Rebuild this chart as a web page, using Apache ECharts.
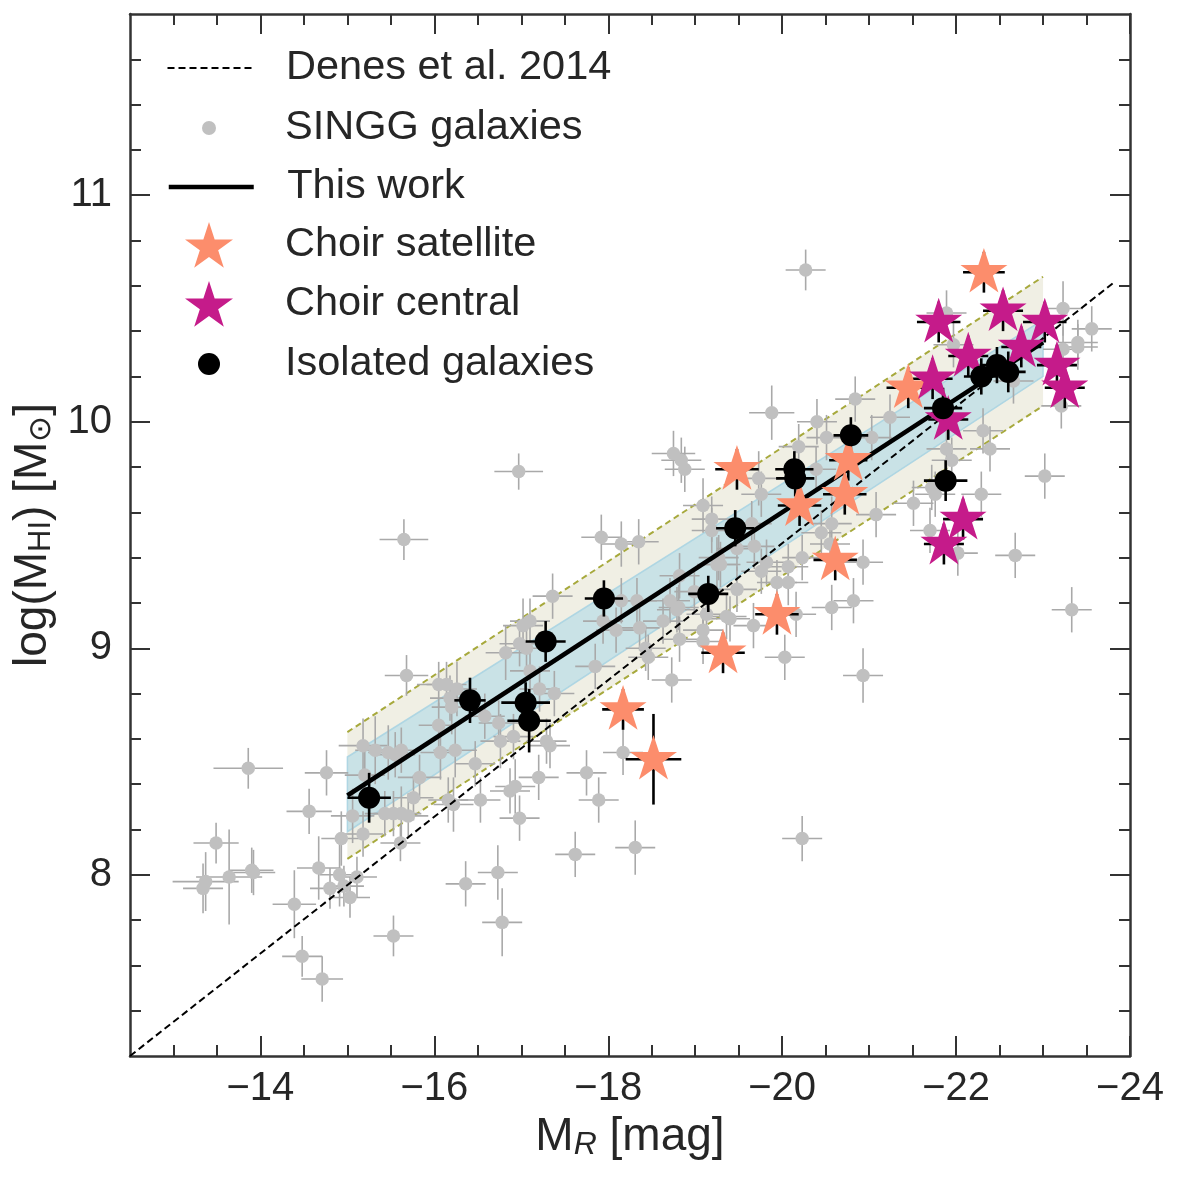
<!DOCTYPE html>
<html>
<head>
<meta charset="utf-8">
<title>HI mass vs R-band magnitude</title>
<script src="https://cdn.jsdelivr.net/npm/echarts@6/dist/echarts.min.js"></script>
<style>
  html, body { margin: 0; padding: 0; background: #ffffff; }
  #main { width: 1182px; height: 1178px; }
</style>
</head>
<body>
<div id="main"></div>
<script>
var FONT = 'Liberation Sans, Arial, Helvetica, sans-serif'
var TEXT = '#262626'

// tick values
var xMajorTicks = [-24, -22, -20, -18, -16, -14]
var xMinorTicks = [-23.5, -23, -22.5, -21.5, -21, -20.5, -19.5, -19, -18.5, -17.5, -17, -16.5, -15.5, -15, -14.5, -13.5, -13]
var yMajorTicks = [8, 9, 10, 11]
var yMinorTicks = [7.4, 7.6, 7.8, 8.2, 8.4, 8.6, 8.8, 9.2, 9.4, 9.6, 9.8, 10.2, 10.4, 10.6, 10.8, 11.2, 11.4, 11.6]

// SINGG galaxies (M_R, log MHI, errors)
var singgM = [-15.68, -13.86, -14.76, -14.56, -13.49, -13.37, -13.34, -13.64, -13.90, -13.92,
  -14.39, -14.67, -14.80, -14.91, -14.96, -15.03, -15.11, -15.53, -14.48, -14.71,
  -15.61, -14.93, -15.18, -15.06, -15.20, -15.18, -15.32, -15.47, -15.55, -15.62,
  -15.83, -15.43, -15.53, -15.62, -15.70, -15.76, -16.05, -16.14, -16.26, -16.18,
  -16.20, -16.05, -16.07, -16.24, -16.16, -16.22, -16.47, -16.58, -16.74, -16.76,
  -16.91, -16.53, -16.87, -16.93, -16.98, -17.20, -17.29, -17.33, -16.82, -16.98,
  -17.06, -17.02, -17.10, -17.10, -17.21, -17.38, -17.36, -17.85, -18.09, -18.15,
  -17.94, -18.33, -18.36, -18.43, -18.46, -18.63, -18.71, -18.81, -18.82, -18.73,
  -19.13, -19.25, -19.36, -19.09, -18.17, -17.75, -17.89, -17.62, -18.31, -19.88,
  -20.40, -20.84, -21.24, -20.51, -21.03, -20.19, -18.75, -18.84, -18.88, -19.73,
  -20.39, -19.76, -19.09, -19.19, -19.19, -19.65, -19.68, -19.48, -20.57, -20.45,
  -20.55, -21.08, -18.15, -18.35, -17.92, -19.27, -19.29, -19.82, -20.07, -19.76,
  -20.23, -20.93, -20.07, -19.94, -18.82, -19.48, -19.67, -20.16, -20.82, -20.57,
  -18.79, -18.99, -19.40, -19.09, -20.03, -20.93, -23.23, -23.56, -23.40, -23.40,
  -23.23, -22.66, -21.89, -21.97, -22.31, -22.39, -21.89, -21.95, -21.72, -21.76,
  -21.51, -22.29, -21.70, -22.02, -22.68, -23.02, -23.21, -23.33, -20.27, -20.23,
  -16.97, -15.65, -16.36, -16.73, -16.78]
var singgHI = [8.88, 8.47, 8.45, 8.28, 8.14, 7.97, 7.94, 7.99, 8.02, 8.01,
  7.87, 8.03, 7.94, 8.00, 7.95, 7.90, 7.99, 7.73, 7.64, 7.54,
  8.14, 8.16, 8.18, 8.26, 8.44, 8.57, 8.55, 8.54, 8.53, 8.55,
  8.43, 8.27, 8.27, 8.27, 8.26, 8.34, 8.84, 8.84, 8.82, 8.78,
  8.74, 8.66, 8.54, 8.55, 8.33, 8.31, 8.49, 8.70, 8.67, 8.59,
  8.61, 8.33, 8.37, 8.39, 8.25, 8.43, 8.59, 8.57, 8.98, 9.02,
  9.00, 9.10, 9.12, 8.90, 8.82, 8.80, 9.23, 8.92, 9.08, 9.21,
  9.12, 9.21, 9.09, 9.00, 8.96, 9.12, 9.21, 9.18, 9.04, 8.86,
  9.15, 9.37, 9.14, 9.08, 8.54, 8.45, 8.33, 8.09, 8.12, 10.04,
  10.00, 10.10, 10.02, 9.93, 9.93, 9.89, 9.86, 9.83, 9.79, 9.75,
  9.79, 9.68, 9.63, 9.57, 9.52, 9.55, 9.45, 9.44, 9.55, 9.51,
  9.46, 9.59, 9.46, 9.47, 9.49, 9.40, 9.37, 9.38, 9.36, 9.34,
  9.40, 9.38, 9.29, 9.29, 9.32, 9.26, 9.10, 9.15, 9.21, 9.18,
  9.17, 9.25, 9.13, 9.03, 8.96, 8.88, 10.50, 10.41, 10.35, 10.33,
  10.32, 10.18, 10.48, 10.34, 9.96, 9.88, 9.88, 9.83, 9.71, 9.68,
  9.64, 9.68, 9.52, 9.42, 9.41, 9.76, 10.07, 9.17, 10.67, 8.16,
  9.78, 9.48, 7.96, 8.01, 7.79]
var singgMErr = [0.25, 0.40, 0.25, 0.26, 0.26, 0.38, 0.23, 0.38, 0.25, 0.25,
  0.25, 0.25, 0.23, 0.23, 0.23, 0.23, 0.23, 0.23, 0.23, 0.24,
  0.23, 0.23, 0.23, 0.25, 0.23, 0.28, 0.23, 0.23, 0.23, 0.23,
  0.25, 0.23, 0.23, 0.23, 0.23, 0.23, 0.25, 0.23, 0.23, 0.23,
  0.23, 0.23, 0.23, 0.25, 0.23, 0.23, 0.23, 0.23, 0.23, 0.23,
  0.23, 0.23, 0.23, 0.23, 0.23, 0.23, 0.23, 0.23, 0.23, 0.23,
  0.23, 0.23, 0.23, 0.23, 0.23, 0.23, 0.23, 0.23, 0.23, 0.23,
  0.23, 0.23, 0.23, 0.23, 0.23, 0.23, 0.23, 0.23, 0.23, 0.23,
  0.23, 0.23, 0.23, 0.23, 0.23, 0.23, 0.23, 0.23, 0.23, 0.26,
  0.23, 0.23, 0.23, 0.23, 0.23, 0.23, 0.25, 0.23, 0.23, 0.23,
  0.23, 0.23, 0.23, 0.23, 0.23, 0.23, 0.23, 0.23, 0.23, 0.23,
  0.23, 0.23, 0.23, 0.23, 0.23, 0.23, 0.23, 0.23, 0.23, 0.23,
  0.23, 0.23, 0.23, 0.23, 0.23, 0.23, 0.23, 0.23, 0.23, 0.23,
  0.23, 0.23, 0.23, 0.23, 0.23, 0.23, 0.23, 0.23, 0.23, 0.23,
  0.23, 0.23, 0.23, 0.23, 0.23, 0.23, 0.23, 0.23, 0.23, 0.23,
  0.23, 0.23, 0.23, 0.23, 0.23, 0.23, 0.23, 0.23, 0.23, 0.23,
  0.28, 0.28, 0.23, 0.23, 0.23]
var singgHIErr = [0.09, 0.09, 0.10, 0.10, 0.09, 0.13, 0.11, 0.21, 0.10, 0.10,
  0.15, 0.14, 0.09, 0.14, 0.09, 0.09, 0.09, 0.09, 0.09, 0.10,
  0.08, 0.12, 0.10, 0.12, 0.12, 0.12, 0.15, 0.12, 0.10, 0.10,
  0.10, 0.10, 0.10, 0.12, 0.10, 0.10, 0.10, 0.10, 0.12, 0.10,
  0.12, 0.10, 0.12, 0.12, 0.10, 0.12, 0.10, 0.10, 0.10, 0.12,
  0.10, 0.10, 0.10, 0.12, 0.10, 0.10, 0.10, 0.10, 0.12, 0.10,
  0.10, 0.12, 0.10, 0.10, 0.10, 0.10, 0.10, 0.10, 0.10, 0.10,
  0.10, 0.10, 0.10, 0.10, 0.10, 0.10, 0.10, 0.10, 0.10, 0.10,
  0.10, 0.12, 0.10, 0.10, 0.10, 0.10, 0.10, 0.10, 0.12, 0.12,
  0.10, 0.10, 0.10, 0.10, 0.10, 0.10, 0.10, 0.10, 0.10, 0.12,
  0.10, 0.10, 0.12, 0.10, 0.10, 0.10, 0.10, 0.10, 0.12, 0.10,
  0.10, 0.10, 0.10, 0.10, 0.10, 0.10, 0.10, 0.10, 0.10, 0.10,
  0.10, 0.10, 0.10, 0.10, 0.10, 0.10, 0.10, 0.10, 0.10, 0.10,
  0.10, 0.10, 0.10, 0.10, 0.10, 0.12, 0.12, 0.10, 0.10, 0.10,
  0.10, 0.10, 0.10, 0.10, 0.10, 0.10, 0.10, 0.10, 0.10, 0.10,
  0.10, 0.10, 0.10, 0.10, 0.10, 0.10, 0.10, 0.10, 0.09, 0.10,
  0.08, 0.09, 0.10, 0.12, 0.15]

// isolated galaxies
var isoM = [-15.25, -16.41, -17.05, -17.09, -17.28, -17.95, -19.15, -19.46, -20.14, -20.15, -20.79, -21.85, -21.88, -22.29, -22.47, -22.60]
var isoHI = [8.34, 8.77, 8.76, 8.68, 9.03, 9.22, 9.24, 9.53, 9.79, 9.75, 9.94, 10.06, 9.74, 10.20, 10.25, 10.22]
var isoMErr = [0.25, 0.18, 0.28, 0.25, 0.23, 0.22, 0.23, 0.22, 0.22, 0.22, 0.20, 0.22, 0.25, 0.20, 0.20, 0.20]
var isoHIErr = [0.11, 0.10, 0.09, 0.14, 0.09, 0.08, 0.08, 0.08, 0.08, 0.08, 0.08, 0.09, 0.09, 0.08, 0.08, 0.09]

// Choir satellites
var satM = [-22.32, -21.45, -19.48, -20.20, -20.76, -20.72, -20.61, -19.94, -19.32, -18.17, -18.52]
var satHI = [10.66, 10.15, 9.79, 9.63, 9.83, 9.68, 9.39, 9.15, 8.98, 8.73, 8.51]
var satMErr = [0.24, 0.25, 0.25, 0.25, 0.22, 0.25, 0.25, 0.25, 0.25, 0.24, 0.32]
var satHIErr = [0.09, 0.09, 0.09, 0.09, 0.09, 0.09, 0.09, 0.09, 0.09, 0.09, 0.20]

// Choir centrals
var cenM = [-21.80, -22.54, -23.02, -22.14, -22.75, -21.73, -23.16, -23.25, -21.91, -22.08, -21.86]
var cenHI = [10.44, 10.49, 10.44, 10.29, 10.33, 10.19, 10.25, 10.15, 10.01, 9.57, 9.46]
var cenMErr = [0.25, 0.23, 0.25, 0.23, 0.23, 0.23, 0.23, 0.23, 0.23, 0.23, 0.23]
var cenHIErr = [0.09, 0.09, 0.09, 0.09, 0.09, 0.09, 0.09, 0.09, 0.09, 0.09, 0.09]

// relations
var denesM = [-12.5, -23.8]
var denesHI = [7.2, 10.61]
var fitM = [-15, -23]
var fitHI = [8.35, 10.35]
var bandM = [-15, -23]
var outerLow = [8.07, 10.07]
var outerHigh = [8.63, 10.64]
var innerLow = [8.19, 10.20]
var innerHigh = [8.52, 10.45]

var STAR = 'path://M50,0 L61.23,34.55 L97.55,34.55 L68.16,55.9 L79.39,90.45 L50,69.1 L20.61,90.45 L31.84,55.9 L2.45,34.55 L38.77,34.55 Z'

function zip(a, b, c, d) {
  var out = []
  a.forEach(function (value, i) {
    out.push(d ? [value, b[i], c[i], d[i]] : [value, b[i]])
  })
  return out
}

function errorBars(data, color, width, z) {
  return {
    type: 'custom', data: data, z: z, silent: true, clip: true,
    encode: { x: 0, y: 1 },
    renderItem: function (params, api) {
      var x = api.value(0), y = api.value(1), dx = api.value(2), dy = api.value(3)
      var l = api.coord([x - dx, y]), r = api.coord([x + dx, y])
      var lo = api.coord([x, y - dy]), hi = api.coord([x, y + dy])
      var style = { stroke: color, lineWidth: width }
      return {
        type: 'group', children: [
          { type: 'line', shape: { x1: l[0], y1: l[1], x2: r[0], y2: r[1] }, style: style },
          { type: 'line', shape: { x1: lo[0], y1: lo[1], x2: hi[0], y2: hi[1] }, style: style }
        ]
      }
    }
  }
}

function renderBands(params, api) {
  var up = [], low = [], inUp = [], inLow = []
  bandM.forEach(function (m, i) {
    up.push(api.coord([m, outerHigh[i]]))
    low.push(api.coord([m, outerLow[i]]))
    inUp.push(api.coord([m, innerHigh[i]]))
    inLow.push(api.coord([m, innerLow[i]]))
  })
  var dash = { stroke: '#a7a93c', lineWidth: 2, lineDash: [6, 4], fill: null }
  return {
    type: 'group', children: [
      { type: 'polygon', shape: { points: up.concat(low.slice().reverse()) }, style: { fill: '#f0efe4' } },
      { type: 'polygon', shape: { points: inUp.concat(inLow.slice().reverse()) }, style: { fill: '#c9e2e6', stroke: 'rgba(170,212,226,0.9)', lineWidth: 1.5 } },
      { type: 'polyline', shape: { points: up }, style: dash },
      { type: 'polyline', shape: { points: low }, style: dash }
    ]
  }
}

function minusLabel(v) {
  return String(v).replace('-', '\u2212')
}

function xAxisOf(pos, ticks, len, labels) {
  return {
    type: 'value', min: -24, max: -12.5, inverse: true, position: pos, gridIndex: 0,
    axisLine: { show: len > 15, lineStyle: { color: '#333333', width: 2.5 } },
    axisTick: { show: true, inside: true, length: len, customValues: ticks, lineStyle: { color: '#333333', width: 2 } },
    axisLabel: { show: labels, customValues: ticks, formatter: minusLabel, fontSize: 40, color: TEXT, fontFamily: FONT, margin: 13 },
    splitLine: { show: false }
  }
}

function yAxisOf(pos, ticks, len, labels) {
  return {
    type: 'value', min: 7.2, max: 11.8, position: pos, gridIndex: 0,
    axisLine: { show: len > 15, lineStyle: { color: '#333333', width: 2.5 } },
    axisTick: { show: true, inside: true, length: len, customValues: ticks, lineStyle: { color: '#333333', width: 2 } },
    axisLabel: { show: labels, customValues: ticks, fontSize: 40, color: TEXT, fontFamily: FONT, margin: 18 },
    splitLine: { show: false }
  }
}

function legendRow(item, yc, w, h) {
  return {
    data: [item], orient: 'vertical', selectedMode: false, padding: 0,
    left: 209 - w / 2, top: yc - Math.max(h, 42) / 2,
    itemWidth: w, itemHeight: h,
    textStyle: { fontSize: 41.5, color: TEXT, fontFamily: FONT, padding: [4, 0, 0, 71 - w / 2] }
  }
}

var xAxes = [
  xAxisOf('bottom', xMajorTicks, 20, true),
  xAxisOf('bottom', xMinorTicks, 11, false),
  xAxisOf('top', xMajorTicks, 20, false),
  xAxisOf('top', xMinorTicks, 11, false)
]
xAxes[0].name = 'M{i|R} [mag]'
xAxes[0].nameLocation = 'middle'
xAxes[0].nameGap = 56
xAxes[0].nameTextStyle = {
  fontSize: 46, color: TEXT, fontFamily: FONT,
  rich: { i: { fontSize: 32, fontStyle: 'italic', color: TEXT, fontFamily: FONT, verticalAlign: 'bottom', padding: [16, 0, 0, 0] } }
}

var yAxes = [
  yAxisOf('left', yMajorTicks, 20, true),
  yAxisOf('left', yMinorTicks, 11, false),
  yAxisOf('right', yMajorTicks, 20, false),
  yAxisOf('right', yMinorTicks, 11, false)
]
yAxes[0].name = 'log(M{s|HI}) [M{s|\u2299}]'
yAxes[0].nameLocation = 'middle'
yAxes[0].nameGap = 66
yAxes[0].nameTextStyle = {
  fontSize: 46, color: TEXT, fontFamily: FONT,
  rich: { s: { fontSize: 31, color: TEXT, fontFamily: FONT, verticalAlign: 'bottom', padding: [16, 0, 0, 0] } }
}

var chart = echarts.init(document.getElementById('main'), null, { renderer: 'canvas' })
chart.setOption({
  animation: false,
  backgroundColor: '#ffffff',
  grid: { left: 130, top: 14, width: 1000, height: 1042, outerBoundsMode: 'none' },
  xAxis: xAxes,
  yAxis: yAxes,
  legend: [
    legendRow({ name: 'Denes et al. 2014', itemStyle: { opacity: 0 }, lineStyle: { width: 2, type: [7, 4] } }, 68, 85, 20),
    legendRow('SINGG galaxies', 128, 14, 14),
    legendRow({ name: 'This work', itemStyle: { opacity: 0 }, lineStyle: { width: 4.5 } }, 187, 85, 20),
    legendRow('Choir satellite', 246, 48, 48),
    legendRow('Choir central', 305, 48, 48),
    legendRow('Isolated galaxies', 364, 22, 22)
  ],
  series: [
    { type: 'custom', data: [[bandM[0], outerLow[0]]], z: 1, silent: true, renderItem: renderBands },
    errorBars(zip(singgM, singgHI, singgMErr, singgHIErr), '#a9a9a9', 1.6, 2),
    {
      name: 'SINGG galaxies', type: 'scatter', z: 3, symbol: 'circle', symbolSize: 13.5,
      itemStyle: { color: '#c0c0c0', opacity: 1 }, data: zip(singgM, singgHI)
    },
    {
      name: 'Denes et al. 2014', type: 'line', z: 4, symbol: 'none', data: zip(denesM, denesHI),
      itemStyle: { color: '#000000' }, lineStyle: { color: '#000000', width: 2, type: [7, 4] }
    },
    {
      name: 'This work', type: 'line', z: 5, symbol: 'none', data: zip(fitM, fitHI),
      itemStyle: { color: '#000000' }, lineStyle: { color: '#000000', width: 4.5 }
    },
    errorBars(zip(satM, satHI, satMErr, satHIErr), '#000000', 2.6, 6),
    errorBars(zip(cenM, cenHI, cenMErr, cenHIErr), '#000000', 2.6, 6),
    errorBars(zip(isoM, isoHI, isoMErr, isoHIErr), '#000000', 2.6, 7),
    {
      name: 'Choir satellite', type: 'scatter', z: 8, symbol: STAR, symbolSize: 47, symbolKeepAspect: true,
      symbolOffset: [0, -2], itemStyle: { color: '#fc8d6c', opacity: 1 }, data: zip(satM, satHI)
    },
    {
      name: 'Choir central', type: 'scatter', z: 8, symbol: STAR, symbolSize: 47, symbolKeepAspect: true,
      symbolOffset: [0, -2], itemStyle: { color: '#c51b8a', opacity: 1 }, data: zip(cenM, cenHI)
    },
    {
      name: 'Isolated galaxies', type: 'scatter', z: 9, symbol: 'circle', symbolSize: 22,
      itemStyle: { color: '#000000', opacity: 1 }, data: zip(isoM, isoHI)
    }
  ]
})
</script>
</body>
</html>
